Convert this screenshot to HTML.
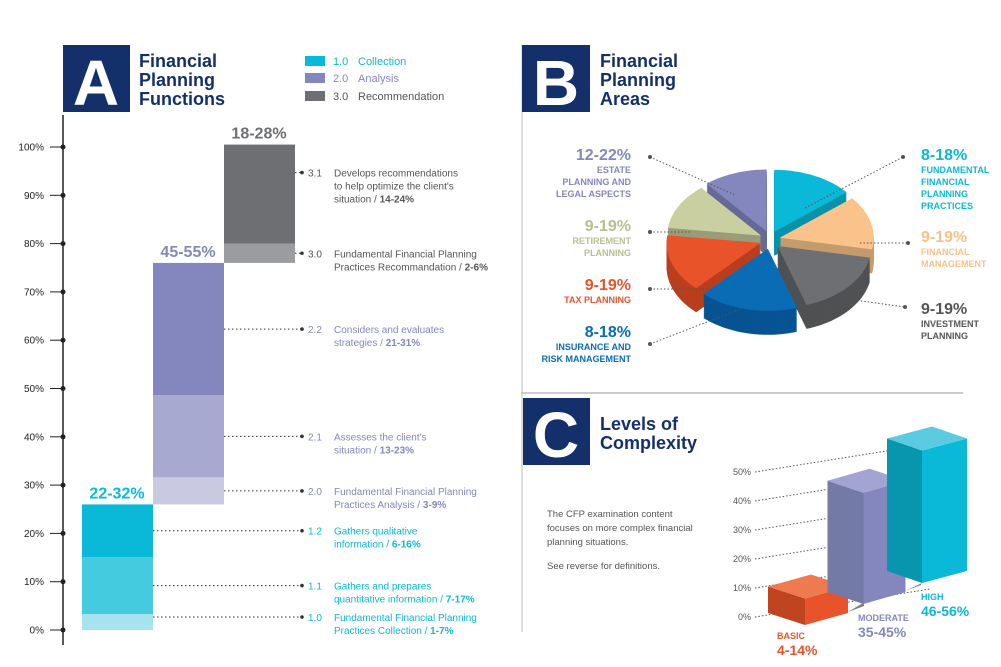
<!DOCTYPE html>
<html><head><meta charset="utf-8"><style>
body{margin:0;background:#fff}
svg{display:block;font-family:"Liberation Sans",sans-serif}
</style></head><body>
<svg id="s" width="1001" height="667" viewBox="0 0 1001 667">
<rect x="63" y="45" width="67" height="67" fill="#13306b"/>
<text x="96" y="105" font-size="64" font-weight="bold" fill="#fff" text-anchor="middle">A</text>
<g font-size="18" font-weight="bold" fill="#13306b">
<text x="139" y="67">Financial</text><text x="139" y="86">Planning</text><text x="139" y="105">Functions</text></g>
<g font-size="11">
<rect x="305" y="56" width="20" height="10" fill="#0ab9d8"/><text x="333" y="65" fill="#0ab9d8">1.0<tspan x="358">Collection</tspan></text>
<rect x="305" y="73" width="20" height="10" fill="#8487be"/><text x="333" y="82" fill="#8487be">2.0<tspan x="358">Analysis</tspan></text>
<rect x="305" y="91" width="20" height="10" fill="#6d6f72"/><text x="333" y="100" fill="#555">3.0<tspan x="358">Recommendation</tspan></text>
</g>
<line x1="63" y1="115" x2="63" y2="645" stroke="#222" stroke-width="1.5"/>
<g id="axisA"></g><g id="barsA"></g>
<line x1="522" y1="45" x2="522" y2="632" stroke="#bbb"/>
<line x1="522" y1="393" x2="963" y2="393" stroke="#999"/>
<rect x="522" y="45" width="68" height="67" fill="#13306b"/>
<text x="556" y="105" font-size="64" font-weight="bold" fill="#fff" text-anchor="middle">B</text>
<g font-size="18" font-weight="bold" fill="#13306b">
<text x="600" y="67">Financial</text><text x="600" y="86">Planning</text><text x="600" y="105">Areas</text></g>
<g id="pie"></g><g id="pieLabels"></g>
<rect x="523" y="398" width="67" height="67" fill="#13306b"/>
<text x="556" y="457" font-size="64" font-weight="bold" fill="#fff" text-anchor="middle">C</text>
<g font-size="18" font-weight="bold" fill="#13306b">
<text x="600" y="430">Levels of</text><text x="600" y="449">Complexity</text></g>
<g font-size="9.5" fill="#555">
<text x="547" y="517">The CFP examination content</text><text x="547" y="531">focuses on more complex financial</text><text x="547" y="545">planning situations.</text><text x="547" y="569">See reverse for definitions.</text></g>
<g id="barsC"></g>
</svg>
<script>
const NS="http://www.w3.org/2000/svg";
function el(p,t,a,txt){const e=document.createElementNS(NS,t);for(const k in a)e.setAttribute(k,a[k]);if(txt!==undefined)e.textContent=txt;p.appendChild(e);return e;}

// ---------- Chart A data ----------
const aTicks=[0,10,20,30,40,50,60,70,80,90,100];
const aSegCodes=["1.0","1.1","1.2","2.0","2.1","2.2","3.0","3.1"];
const aSegValues=[3.3,11.8,10.9,5.6,17,27.4,4,20.5];
const aSegColumn=[0,0,0,1,1,1,2,2];
const aSegLabels=[["Fundamental Financial Planning","Practices Collection / ","1-7%"],["Gathers and prepares","quantitative information / ","7-17%"],["Gathers qualitative","information / ","6-16%"],["Fundamental Financial Planning","Practices Analysis / ","3-9%"],["Assesses the client's","situation / ","13-23%"],["Considers and evaluates","strategies / ","21-31%"],["Fundamental Financial Planning","Practices Recommandation / ","2-6%"],["Develops recommendations","to help optimize the client's","situation / ","14-24%"]];
const aColTotals=["22-32%","45-55%","18-28%"];
const aSegColors=["#a6e3ef","#45cbe0","#0ab9d8","#c9c9e2","#a7a9d0","#8487be","#9a9c9f","#6d6f72"];
const aColColors=["#0ab9d8","#8487be","#6d6f72"];
const aTextColors=["#0ab9d8","#8487be","#555"];
const yA=v=>630-v*4.83;
const gAx=document.getElementById('axisA');
aTicks.forEach(t=>{
 const y=yA(t);
 const ln=el(gAx,'line',{x1:50,y1:y,x2:63,y2:y,stroke:'#222'});
 
 
 const c=el(gAx,'circle',{cx:63,cy:y,r:2.5,fill:'#222'});
 
 
 const tx=el(gAx,'text',{x:44,y:y+3.5,'font-size':10,'text-anchor':'end',fill:'#222'},t+'%');
 
 
});
const gB=document.getElementById('barsA');
let cum=0;const colTop=[0,0,0];
aSegValues.forEach((v,i)=>{
 const col=aSegColumn[i];const x=82+col*71;
 const y0=yA(cum),y1=yA(cum+v);
 const r=el(gB,'rect',{x:x,y:y1,width:71,height:y0-y1,fill:aSegColors[i]});
 
 
 let ly=(y0+y1)/2; if(i==7) ly=y1+28; if(i==0) ly=y1+3;
 const l=el(gB,'line',{x1:x+71,y1:ly,x2:302,y2:ly,stroke:'#333','stroke-dasharray':'1.5 2.5'});
 
 
 const d=el(gB,'circle',{cx:302,cy:ly,r:1.8,fill:'#333'});
 
 
 const g=el(gB,'g',{'font-size':10,fill:aTextColors[col]});
 
 
 el(g,'text',{x:308,y:ly+4},aSegCodes[i]);
 const L=aSegLabels[i];
 L.forEach((s,k)=>{ if(k<L.length-1){const t=el(g,'text',{x:334,y:ly+4+k*13},s); if(k==L.length-2){el(t,'tspan',{'font-weight':'bold'},L[L.length-1]);}}});
 cum+=v;colTop[col]=cum;
});
aColTotals.forEach((s,c)=>{
 const t=el(gB,'text',{x:117+c*71,y:yA(colTop[c])-6,'font-size':16,'font-weight':'bold','text-anchor':'middle',fill:aColColors[c]},s);
 
 
});

// ---------- Chart B data ----------
const pieNames=["fundamental","financial-management","investment","insurance","tax","retirement","estate"];
const pieValues=[14,14,17,17,15,12,11];
const pieTop=["#0ab9d8","#f9c38b","#6d6f72","#0a6cb5","#e8532a","#c9cfa1","#8487be"];
const pieSide=["#0893aa","#c49b6c","#4f5153","#075393","#b83e1d","#989c78","#676a96"];
const cx=770,cy=240,rx=94,ry=62,depth=24;
const gP=document.getElementById('pie');
const tot=pieValues.reduce((a,b)=>a+b,0);
let acc=0;const slices=[];
pieValues.forEach((v,i)=>{const a0=acc/tot*2*Math.PI;acc+=v;const a1=acc/tot*2*Math.PI;slices.push({i,a0,a1,m:(a0+a1)/2});});
function secPath(s,ox,oy){
 let p=`M${ox},${oy}`;const n=30;
 for(let k=0;k<=n;k++){const a=s.a0+(s.a1-s.a0)*k/n;p+=` L${(ox+rx*Math.sin(a)).toFixed(1)},${(oy-ry*Math.cos(a)).toFixed(1)}`;}
 return p+'Z';
}
slices.sort((a,b)=>(-Math.cos(a.m))-(-Math.cos(b.m)));
slices.forEach(s=>{
 const ox=cx+10*Math.sin(s.m),oy=cy-9*Math.cos(s.m);
 const g=el(gP,'g',{});
 
 
 for(let d=depth;d>0;d-=1) el(g,'path',{d:secPath(s,ox,oy+d),fill:pieSide[s.i]});
 el(g,'path',{d:secPath(s,ox,oy),fill:pieTop[s.i]});
});
const pieLbl=[
 {x:921,a:'start',c:'#0ab9d8',p:'8-18%',y:160,l:['FUNDAMENTAL','FINANCIAL','PLANNING','PRACTICES'],line:[805,208,903,157]},
 {x:921,a:'start',c:'#f9c08a',p:'9-19%',y:242,l:['FINANCIAL','MANAGEMENT'],line:[860,243,908,243]},
 {x:921,a:'start',c:'#555',p:'9-19%',y:314,l:['INVESTMENT','PLANNING'],line:[840,298,905,307]},
 {x:631,a:'end',c:'#8487be',p:'12-22%',y:160,l:['ESTATE','PLANNING AND','LEGAL ASPECTS'],line:[650,157,735,195]},
 {x:631,a:'end',c:'#b8bf8d',p:'9-19%',y:231,l:['RETIREMENT','PLANNING'],line:[650,232,690,232]},
 {x:631,a:'end',c:'#e8532a',p:'9-19%',y:290,l:['TAX PLANNING'],line:[650,289,712,289]},
 {x:631,a:'end',c:'#0a6cb5',p:'8-18%',y:337,l:['INSURANCE AND','RISK MANAGEMENT'],line:[650,344,743,308]}];
const gL=document.getElementById('pieLabels');
pieLbl.forEach((o,i)=>{
 const g=el(gL,'g',{fill:o.c});
 
 
 el(g,'line',{x1:o.line[0],y1:o.line[1],x2:o.line[2],y2:o.line[3],stroke:'#555','stroke-dasharray':'1.5 2'});
 el(g,'circle',{cx:o.a=='end'?o.line[0]:o.line[2],cy:o.a=='end'?o.line[1]:o.line[3],r:2,fill:'#555'});
 el(g,'text',{x:o.x,y:o.y,'font-size':16,'font-weight':'bold','text-anchor':o.a},o.p);
 o.l.forEach((s,k)=>el(g,'text',{x:o.x,y:o.y+13+k*12,'font-size':9,'font-weight':'bold','text-anchor':o.a},s));
});

// ---------- Chart C data ----------
const cTicks=[0,10,20,30,40,50];
const cNames=["BASIC","MODERATE","HIGH"];
const cRanges=["4-14%","35-45%","46-56%"];
const cValues=[10,42,50];
const cTop=["#ef7a50","#a2a5d2","#5ccbe2"];
const cLeft=["#c0441f","#737aa6","#0896ae"];
const cRight=["#e8532a","#8487be","#0ab9d8"];
const gC=document.getElementById('barsC');
const yC=v=>617-v*2.9;
cTicks.forEach(t=>{
 const y=yC(t);
 const tx=el(gC,'text',{x:751,y:y+3,'font-size':9,'text-anchor':'end',fill:'#555'},t+'%');
 
 
 const ln=el(gC,'line',{x1:755,y1:y,x2:930,y2:y-28,stroke:'#555','stroke-dasharray':'1.5 2'});
 
 
});
const cWL=[37,36,35],cWR=[43,42,45],cRise=12;
// floor shadows
[[848,612,863,603],[905,591,922,583]].forEach((p,k)=>{
 const sh=el(gC,'polygon',{points:`${p[0]},${p[1]} ${p[0]+16},${p[1]-6} ${p[2]},${p[3]-8} ${p[2]},${p[3]}`,fill:'#7a7b7d'});
 
 
});
cValues.forEach((v,i)=>{
 const fx=805+i*58.5,fy=625-i*21,h=v*2.65;
 const wl=cWL[i],wr=cWR[i];
 const g=el(gC,'g',{});
 
 
 el(g,'polygon',{points:`${fx},${fy} ${fx-wl},${fy-cRise} ${fx-wl},${fy-cRise-h} ${fx},${fy-h}`,fill:cLeft[i]});
 el(g,'polygon',{points:`${fx},${fy} ${fx+wr},${fy-cRise} ${fx+wr},${fy-cRise-h} ${fx},${fy-h}`,fill:cRight[i]});
 el(g,'polygon',{points:`${fx},${fy-h} ${fx-wl},${fy-cRise-h} ${fx-wl+wr},${fy-2*cRise-h} ${fx+wr},${fy-cRise-h}`,fill:cTop[i]});
 const lg=el(gC,'g',{fill:cRight[i],'font-weight':'bold'});
 
 
 const lx=[777,858,921][i],ly=[639,621,600][i];
 el(lg,'text',{x:lx,y:ly,'font-size':9},cNames[i]);
 el(lg,'text',{x:lx,y:ly+16,'font-size':14},cRanges[i]);
});
</script>
</body></html>
